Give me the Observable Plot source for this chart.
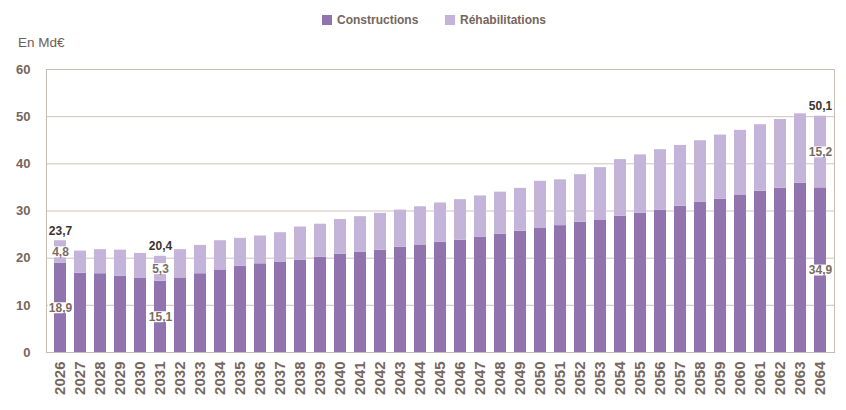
<!DOCTYPE html>
<html><head><meta charset="utf-8">
<script src="https://cdn.jsdelivr.net/npm/d3@7"></script>
<script src="https://cdn.jsdelivr.net/npm/@observablehq/plot@0.6"></script>
<style>
body{margin:0;background:#fff;font-family:"Liberation Sans",Arial,sans-serif;}
#wrap{position:relative;width:846px;height:410px;overflow:hidden;}
#chart{position:absolute;left:0;top:0;}
.leg{position:absolute;top:13px;display:flex;align-items:center;font-weight:bold;font-size:12px;color:#76665d;}
.leg span.sw{display:inline-block;width:10px;height:10px;margin-right:5px;}
.unit{position:absolute;left:18px;top:35px;font-size:13.5px;color:#6e6058;}
</style></head><body>
<div id="wrap">
<div id="chart"></div>
<div class="leg" style="left:322px"><span class="sw" style="background:#9173ae"></span>Constructions</div>
<div class="leg" style="left:445px"><span class="sw" style="background:#c5b4da"></span>Réhabilitations</div>
<div class="unit">En Md€</div>
</div>
<script>
const years = ["2026","2027","2028","2029","2030","2031","2032","2033","2034","2035","2036","2037","2038","2039","2040","2041","2042","2043","2044","2045","2046","2047","2048","2049","2050","2051","2052","2053","2054","2055","2056","2057","2058","2059","2060","2061","2062","2063","2064"];
const constructions = [18.9,16.8,16.7,16.2,15.7,15.1,15.8,16.7,17.5,18.3,18.8,19.1,19.6,20.2,20.8,21.3,21.7,22.3,22.8,23.4,23.8,24.4,25.1,25.7,26.4,26.9,27.6,28.1,28.9,29.5,30.2,31.0,31.9,32.5,33.4,34.2,34.8,35.9,34.9];
const rehabilitations = [4.8,4.7,5.1,5.5,5.3,5.3,6.0,6.0,6.2,5.9,5.9,6.3,7.0,7.0,7.4,7.5,7.8,7.9,8.1,8.3,8.6,8.8,8.9,9.1,9.9,9.7,10.1,11.1,12.0,12.4,12.8,12.9,13.0,13.6,13.7,14.1,14.6,14.7,15.2];
const series = ["Constructions","Réhabilitations"];
const seriesColors = ["#9173ae","#c5b4da"];
const labeledYears = ["2026","2031","2064"];
const yTicks = [0,10,20,30,40,50,60];

const fmt = v => d3.format(".1f")(v).replace(".", ",");

const rows = years.flatMap((y, i) => [
  {year: y, serie: series[0], value: constructions[i]},
  {year: y, serie: series[1], value: rehabilitations[i]}
]);
const labels = labeledYears.map(y => {
  const i = years.indexOf(y);
  return {year: y, c: constructions[i], r: rehabilitations[i], t: +(constructions[i] + rehabilitations[i]).toFixed(1)};
});

const chart = Plot.plot({
  width: 846,
  height: 410,
  marginTop: 69,
  marginBottom: 58,
  marginLeft: 46,
  marginRight: 12,
  style: {fontFamily: "'Liberation Sans', Arial, sans-serif", color: "#76665d", background: "#fff"},
  x: {domain: years, padding: 0.4, label: null},
  y: {domain: [0, 60], label: null},
  color: {domain: series, range: seriesColors},
  marks: [
    Plot.gridY({ticks: yTicks, stroke: "#cdc3be", strokeOpacity: 1}),
    Plot.frame({stroke: "#c6bbb6"}),
    Plot.barY(rows, {x: "year", y: "value", fill: "serie", order: series}),
    Plot.text(labels, {x: "year", y: "t", text: d => fmt(d.t), dy: -10, fill: "#3d3330", fontWeight: "bold", fontSize: 12}),
    Plot.text(labels, {x: "year", y: d => d.c + d.r / 2, text: d => fmt(d.r), fill: "#7b6b63", fontWeight: "bold", fontSize: 12, ariaDescription: "boxed"}),
    Plot.text(labels, {x: "year", y: d => d.c / 2, text: d => fmt(d.c), fill: "#7b6b63", fontWeight: "bold", fontSize: 12, ariaDescription: "boxed"}),
    Plot.axisY({ticks: yTicks, tickSize: 0, tickPadding: 16, fontSize: 13, fontWeight: "bold", label: null}),
    Plot.axisX({tickRotate: -90, tickSize: 0, tickPadding: 9, fontSize: 15, fontWeight: "bold", label: null})
  ]
});
document.getElementById("chart").appendChild(chart);

chart.querySelectorAll('g[aria-description="boxed"] text').forEach(t => {
  const b = t.getBBox();
  const r = document.createElementNS("http://www.w3.org/2000/svg", "rect");
  r.setAttribute("x", b.x - 1);
  r.setAttribute("y", b.y + 1.5);
  r.setAttribute("width", b.width + 2);
  r.setAttribute("height", b.height - 3);
  r.setAttribute("fill", "#fff");
  if (t.getAttribute("transform")) r.setAttribute("transform", t.getAttribute("transform"));
  t.parentNode.insertBefore(r, t);
});
</script>
</body></html>
